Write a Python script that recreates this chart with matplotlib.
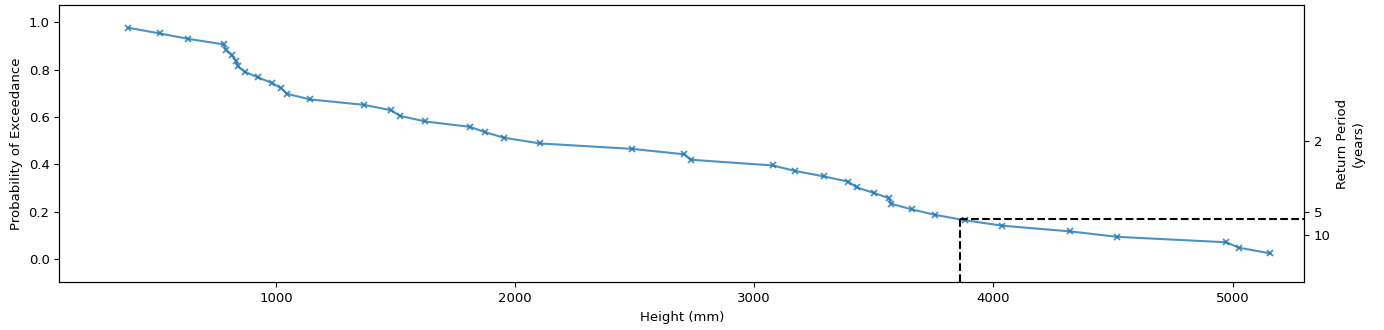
import matplotlib
matplotlib.use("Agg")
import matplotlib.pyplot as plt

# Observed flood heights (mm), sorted ascending
heights = [383, 515, 634, 781, 792, 816, 834, 841, 870, 926,
           982, 1023, 1046, 1143, 1369, 1483, 1517, 1624, 1812, 1876,
           1954, 2104, 2489, 2708, 2734, 3077, 3169, 3290, 3394, 3428,
           3500, 3564, 3572, 3659, 3756, 3882, 4038, 4322, 4517, 4974,
           5027, 5158]

# Empirical probability of exceedance for each height
exceedance = [0.977, 0.953, 0.930, 0.907, 0.884, 0.860, 0.837, 0.814, 0.791, 0.767,
              0.744, 0.721, 0.698, 0.674, 0.651, 0.628, 0.605, 0.581, 0.558, 0.535,
              0.512, 0.488, 0.465, 0.442, 0.419, 0.395, 0.372, 0.349, 0.326, 0.302,
              0.279, 0.256, 0.233, 0.209, 0.186, 0.163, 0.140, 0.116, 0.093, 0.070,
              0.047, 0.023]

# Return period axis
return_periods = [2, 5, 10]
return_labels = ["2", "5", "10"]

# Design event marked with guide lines
design_height = 3860
design_prob = 0.167

fs = 9.5
fig = plt.figure(figsize=(13.84, 3.30), dpi=100)
ax = fig.add_axes([0.0428, 0.144, 0.8996, 0.842])

ax.plot(heights, exceedance, color="#1f77b4", alpha=0.8, linewidth=1.5,
        marker="x", markersize=5, markeredgewidth=1.3)

xmin, xmax = 94, 5300
ymin, ymax = -0.1, 1.075
ax.plot([design_height, design_height], [ymin, design_prob],
        color="black", linestyle="--", linewidth=1.5)
ax.plot([design_height, xmax + 200], [design_prob, design_prob],
        color="black", linestyle="--", linewidth=1.5)

ax.set_xlim(xmin, xmax)
ax.set_ylim(ymin, ymax)
ax.set_xticks([1000, 2000, 3000, 4000, 5000])
ax.set_yticks([0.0, 0.2, 0.4, 0.6, 0.8, 1.0])
ax.tick_params(labelsize=fs)
ax.set_xlabel("Height (mm)", fontsize=fs)
ax.set_ylabel("Probability of Exceedance", fontsize=fs)

ax2 = ax.twinx()
ax2.set_ylim(ymin, ymax)
ax2.set_yticks([1 / t for t in return_periods])
ax2.set_yticklabels(return_labels)
ax2.tick_params(labelsize=fs)
ax2.set_ylabel("Return Period\n(years)", fontsize=fs)

fig.savefig("out.png", dpi=100)
